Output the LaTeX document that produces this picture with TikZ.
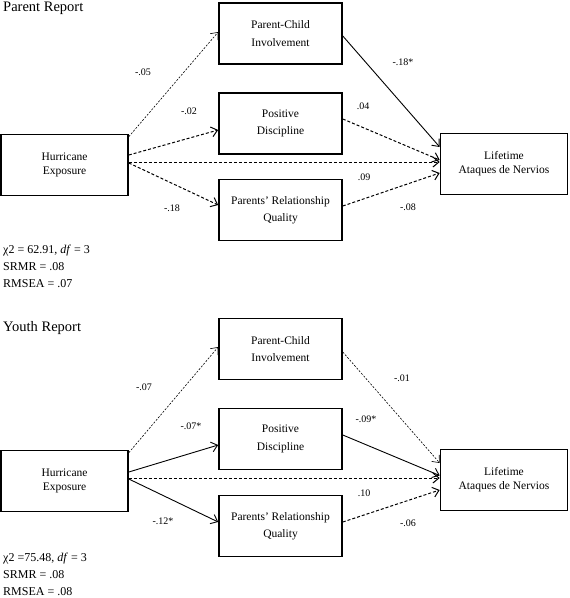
\documentclass[tikz,border=0pt]{standalone}
\usepackage{fontspec}
\setmainfont{Liberation Serif}
\usetikzlibrary{arrows.meta,positioning}

\tikzset{
  box/.style={draw, line width=1.6pt, align=center, minimum height=61pt, inner sep=2pt},
  outerbox/.style={box, minimum width=127pt, font=\fontsize{11.5}{14}\selectfont},
  mediator/.style={box, minimum width=123pt, font=\fontsize{11.5}{17.5}\selectfont},
  effect/.style={-{Straight Barb[length=6pt,width=10pt]}, line width=0.9pt},
  ns/.style={effect, line width=1pt, dash pattern=on 3pt off 2pt},
  nsfine/.style={effect, line width=0.6pt, dash pattern=on 2pt off 1.5pt},
  coef/.style={font=\fontsize{10}{12}\selectfont, inner sep=0pt},
  heading/.style={anchor=west, inner sep=0pt, font=\fontsize{14.5}{17}\selectfont},
  fitstats/.style={anchor=north west, inner sep=0pt, align=left, font=\fontsize{12}{17}\selectfont}
}

\begin{document}
\begin{tikzpicture}[x=1pt, y=-1pt]
  \useasboundingbox (0,0) rectangle (570,598);

  % Parent report panel
  \node[heading] (ptitle) at (3,8) {Parent Report};
  \node[outerbox] (phur) at (64.5,165) {Hurricane\\Exposure};
  \node[mediator] (ppci) at (280.5,33.5) {Parent-Child\\Involvement};
  \node[mediator] (ppd) at (280.5,123.5) {Positive\\Discipline};
  \node[mediator] (pprq) at (280.5,210) {Parents' Relationship\\Quality};
  \node[outerbox] (plif) at (504,164) {Lifetime\\Ataques de Nervios};
  % Paths
  \draw[nsfine] ([yshift=-3pt]phur.north east) -- ([yshift=1.5pt]ppci.west);
  \draw[ns] ([yshift=10pt]phur.east) -- ([yshift=-6.5pt]ppd.west);
  \draw[ns] ([yshift=3pt]phur.east) -- ([yshift=2pt]plif.west);
  \draw[ns] ([yshift=2pt]phur.east) -- ([yshift=5pt]pprq.west);
  \draw[effect] ([yshift=-2.5pt]ppci.east) -- ([yshift=17pt]plif.west);
  \draw[ns] ([yshift=4.5pt]ppd.east) -- ([yshift=4pt]plif.west);
  \draw[ns] ([yshift=4pt]pprq.east) -- ([yshift=-9pt]plif.west);
  % Coefficients
  \node[coef] (pa1) at (143,72) {-.05};
  \node[coef] (pa2) at (189,111) {-.02};
  \node[coef] (pa3) at (172,208) {-.18};
  \node[coef] (pb1) at (403,62) {-.18*};
  \node[coef] (pb2) at (363,106) {.04};
  \node[coef] (pc) at (364,177) {.09};
  \node[coef] (pb3) at (408,207) {-.08};
  % Fit
  \node[fitstats] (pfit) at (3,245) {χ2 = 62.91, \textit{df} = 3\\SRMR = .08\\RMSEA = .07};

  % Youth report panel
  \node[heading] (ytitle) at (3,328) {Youth Report};
  \node[outerbox] (yhur) at (64.5,481) {Hurricane\\Exposure};
  \node[mediator] (ypci) at (280.5,349) {Parent-Child\\Involvement};
  \node[mediator] (ypd) at (280.5,439) {Positive\\Discipline};
  \node[mediator] (yprq) at (280.5,526) {Parents' Relationship\\Quality};
  \node[outerbox] (ylif) at (504,480) {Lifetime\\Ataques de Nervios};
  % Paths
  \draw[nsfine] ([yshift=-3pt]yhur.north east) -- ([yshift=2pt]ypci.west);
  \draw[effect] ([yshift=9pt]yhur.east) -- ([yshift=-6pt]ypd.west);
  \draw[ns] ([yshift=3pt]yhur.east) -- ([yshift=2pt]ylif.west);
  \draw[effect] ([yshift=2pt]yhur.east) -- ([yshift=4pt]yprq.west);
  \draw[nsfine] ([yshift=-3pt]ypci.east) -- ([yshift=17pt]ylif.west);
  \draw[effect] ([yshift=4pt]ypd.east) -- ([yshift=4.5pt]ylif.west);
  \draw[ns] ([yshift=4pt]yprq.east) -- ([yshift=-10pt]ylif.west);
  % Coefficients
  \node[coef] (ya1) at (144,387) {-.07};
  \node[coef] (ya2) at (191,426) {-.07*};
  \node[coef] (ya3) at (163,521) {-.12*};
  \node[coef] (yb1) at (402,378) {-.01};
  \node[coef] (yb2) at (366,419) {-.09*};
  \node[coef] (yc) at (364,493) {.10};
  \node[coef] (yb3) at (408,523) {-.06};
  % Fit
  \node[fitstats] (yfit) at (3,553) {χ2 =75.48, \textit{df} = 3\\SRMR = .08\\RMSEA = .08};
\end{tikzpicture}
\end{document}
